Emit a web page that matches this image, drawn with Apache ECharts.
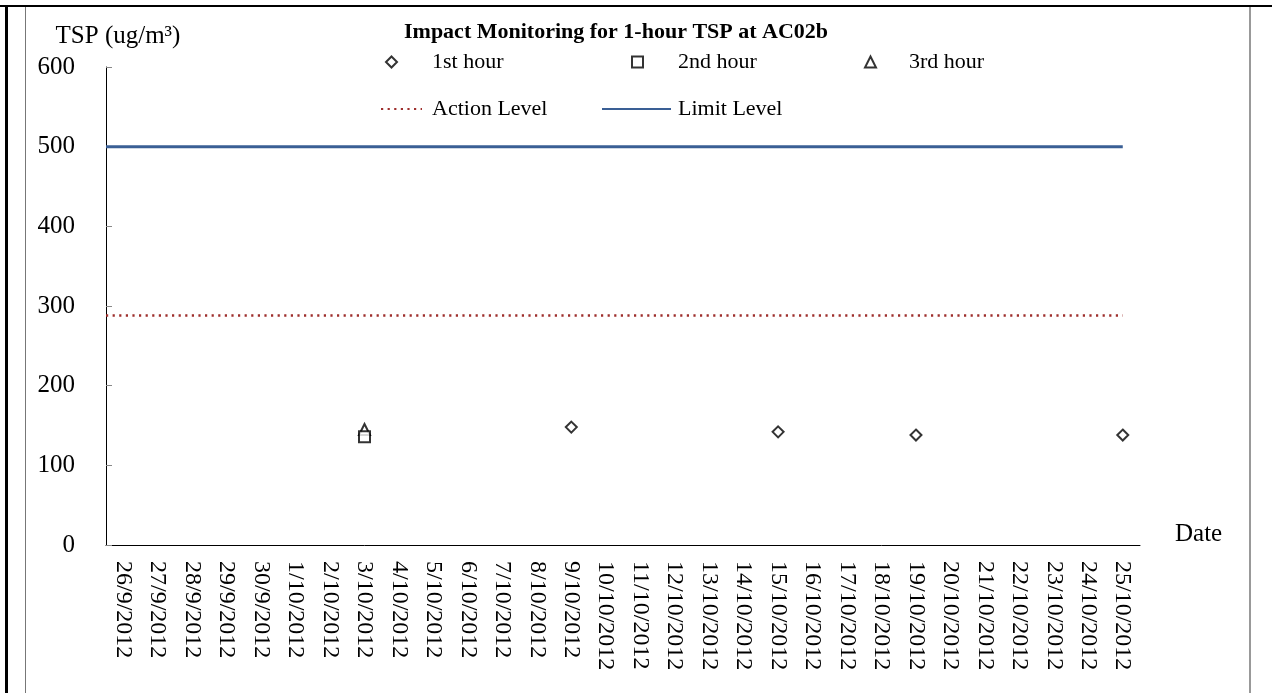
<!DOCTYPE html>
<html>
<head>
<meta charset="utf-8">
<script src="https://cdn.jsdelivr.net/npm/echarts@6/dist/echarts.min.js"></script>
<style>
  html, body { margin: 0; padding: 0; background: #fff; }
  #chart { width: 1272px; height: 693px; }
</style>
</head>
<body>
<div id="chart"></div>
<script>
var dates = [
  '26/9/2012', '27/9/2012', '28/9/2012', '29/9/2012', '30/9/2012',
  '1/10/2012', '2/10/2012', '3/10/2012', '4/10/2012', '5/10/2012',
  '6/10/2012', '7/10/2012', '8/10/2012', '9/10/2012', '10/10/2012',
  '11/10/2012', '12/10/2012', '13/10/2012', '14/10/2012', '15/10/2012',
  '16/10/2012', '17/10/2012', '18/10/2012', '19/10/2012', '20/10/2012',
  '21/10/2012', '22/10/2012', '23/10/2012', '24/10/2012', '25/10/2012'
]
// [date, TSP]
var hour1 = [['9/10/2012', 148], ['15/10/2012', 142], ['19/10/2012', 138], ['25/10/2012', 138]]
var hour2 = [['3/10/2012', 136]]
var hour3 = [['3/10/2012', 145]]
var actionLevel = 288
var limitLevel = 500
var yMin = 0
var yMax = 600
var yStep = 100

var font = "'Liberation Serif', 'Times New Roman', serif"

// level lines run from the y axis to the last date
function levelLine(v) {
  return [[-0.5, v], [dates.length - 1, v]]
}

function pointStyle() {
  return { color: '#fff', borderColor: '#000', borderWidth: 2 }
}

var chart = echarts.init(document.getElementById('chart'))
chart.setOption({
  animation: false,
  backgroundColor: '#fff',
  textStyle: { fontFamily: font, color: '#000' },
  title: {
    text: 'Impact Monitoring for 1-hour TSP at AC02b',
    left: 404,
    top: 21,
    padding: 0,
    textStyle: { fontFamily: font, fontSize: 22, fontWeight: 'bold', color: '#000' }
  },
  legend: [
    {
      data: ['1st hour'], left: 385, top: 51, padding: 0,
      itemWidth: 11, itemHeight: 11, selectedMode: false,
      textStyle: { fontFamily: font, fontSize: 22, color: '#000', padding: [0, 0, 0, 30] }
    },
    {
      data: ['2nd hour'], left: 631, top: 51, padding: 0,
      itemWidth: 11, itemHeight: 11, selectedMode: false,
      textStyle: { fontFamily: font, fontSize: 22, color: '#000', padding: [0, 0, 0, 30] }
    },
    {
      data: ['3rd hour'], left: 864, top: 51, padding: 0,
      itemWidth: 11, itemHeight: 11, selectedMode: false,
      textStyle: { fontFamily: font, fontSize: 22, color: '#000', padding: [0, 0, 0, 28] }
    },
    {
      data: ['Action Level'], left: 380, top: 98, padding: 0,
      itemWidth: 41, itemHeight: 10, selectedMode: false,
      itemStyle: { opacity: 0 },
      textStyle: { fontFamily: font, fontSize: 22, color: '#000', padding: [0, 0, 0, 5] }
    },
    {
      data: ['Limit Level'], left: 601, top: 98, padding: 0,
      itemWidth: 69, itemHeight: 10, selectedMode: false,
      itemStyle: { opacity: 0 },
      textStyle: { fontFamily: font, fontSize: 22, color: '#000', padding: [0, 0, 0, 2] }
    }
  ],
  grid: { left: 106, right: 132, top: 67, bottom: 148, containLabel: false },
  xAxis: [
    {
      type: 'category',
      data: dates,
      boundaryGap: true,
      name: 'Date',
      nameLocation: 'end',
      nameGap: 35,
      nameTextStyle: { fontFamily: font, fontSize: 25, color: '#000', align: 'left', verticalAlign: 'bottom', lineHeight: 22 },
      axisLine: { lineStyle: { color: '#000', width: 1 } },
      axisTick: { inside: true, length: 5, lineStyle: { color: '#888' } },
      axisLabel: { interval: 0, rotate: -90, margin: 16, fontFamily: font, fontSize: 24, color: '#000' },
      splitLine: { show: false }
    },
    {
      type: 'value',
      min: -0.5,
      max: dates.length - 0.5,
      show: false
    }
  ],
  yAxis: {
    type: 'value',
    min: yMin,
    max: yMax,
    interval: yStep,
    name: 'TSP (ug/m\u00b3)',
    nameLocation: 'end',
    nameGap: 18,
    nameTextStyle: { fontFamily: font, fontSize: 25, color: '#000', align: 'center', padding: [0, 0, 0, 24] },
    axisLine: { show: true, onZero: false, lineStyle: { color: '#000', width: 1 } },
    axisTick: { show: true, inside: true, length: 6, lineStyle: { color: '#888' } },
    axisLabel: { margin: 31, fontFamily: font, fontSize: 25, color: '#000' },
    splitLine: { show: false }
  },
  series: [
    {
      name: 'Action Level', type: 'line', xAxisIndex: 1,
      data: levelLine(actionLevel), symbol: 'none',
      lineStyle: { color: '#9e2f2d', width: 2.6, type: [2.2, 4.4] },
      itemStyle: { color: '#9e2f2d' }
    },
    {
      name: 'Limit Level', type: 'line', xAxisIndex: 1,
      data: levelLine(limitLevel), symbol: 'none',
      lineStyle: { color: '#3a5f95', width: 3 },
      itemStyle: { color: '#3a5f95' }
    },
    {
      name: '1st hour', type: 'scatter', data: hour1,
      symbol: 'diamond', symbolSize: 11, itemStyle: pointStyle(), z: 3
    },
    {
      name: '3rd hour', type: 'scatter', data: hour3,
      symbol: 'triangle', symbolSize: 11, itemStyle: pointStyle(), z: 3
    },
    {
      name: '2nd hour', type: 'scatter', data: hour2,
      symbol: 'rect', symbolSize: 11, itemStyle: pointStyle(), z: 4
    }
  ],
  graphic: [
    { type: 'line', shape: { x1: 0, y1: 6, x2: 1272, y2: 6 }, style: { stroke: '#000', lineWidth: 2 } },
    { type: 'line', shape: { x1: 6.5, y1: 5, x2: 6.5, y2: 693 }, style: { stroke: '#000', lineWidth: 3 } },
    { type: 'line', shape: { x1: 25.5, y1: 7, x2: 25.5, y2: 693 }, style: { stroke: '#777', lineWidth: 1 } },
    { type: 'line', shape: { x1: 1250, y1: 7, x2: 1250, y2: 693 }, style: { stroke: '#999', lineWidth: 2 } }
  ]
})
</script>
</body>
</html>
